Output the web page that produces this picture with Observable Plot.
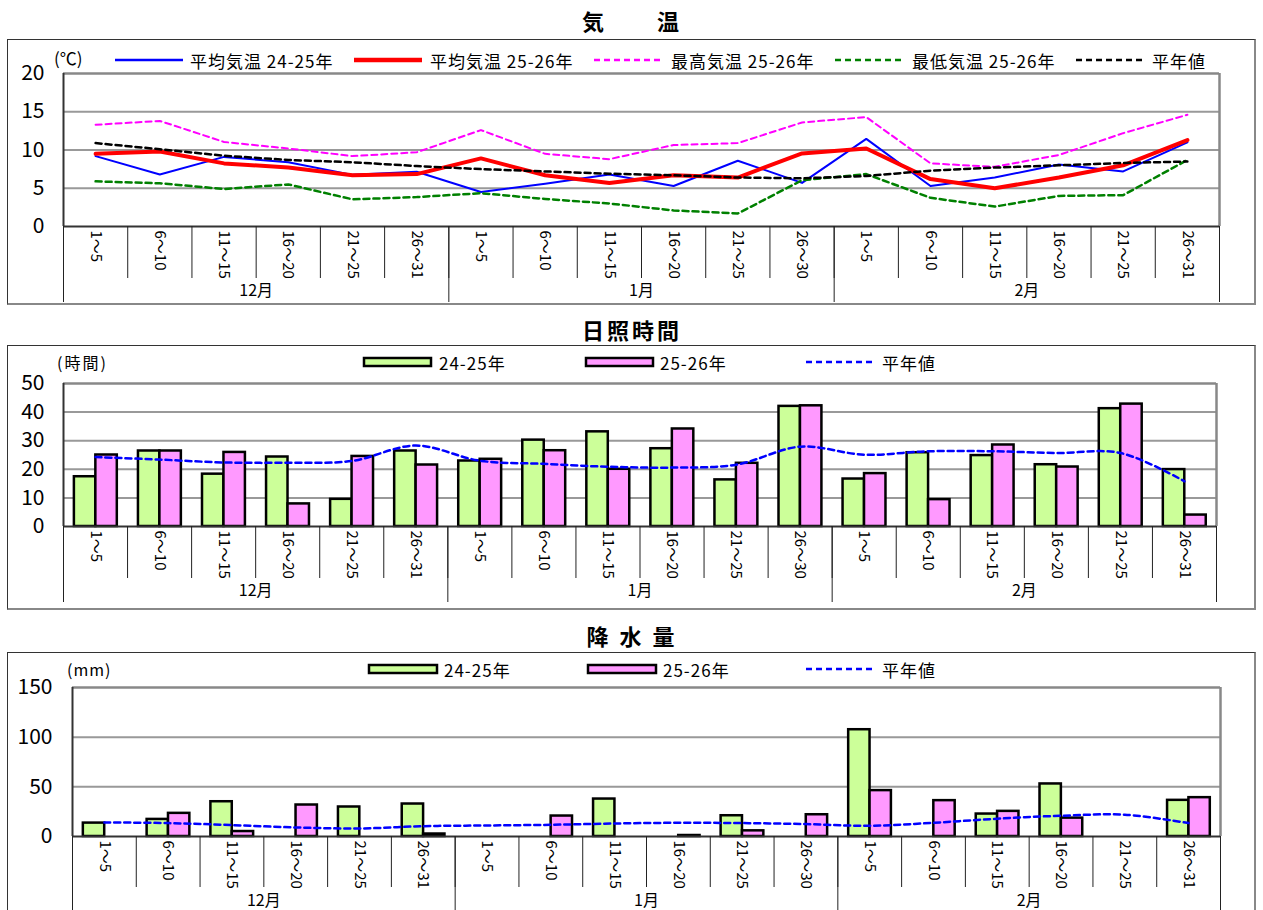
<!DOCTYPE html>
<html><head><meta charset="utf-8">
<script src="https://cdn.jsdelivr.net/npm/d3@7"></script>
<script src="https://cdn.jsdelivr.net/npm/@observablehq/plot@0.6"></script>
<style>
body{margin:0;background:#fff;font-family:"Noto Sans CJK JP",sans-serif;color:#000;}
#root{position:relative;width:1263px;height:910px;overflow:hidden;background:#fff;}
.abs{position:absolute;white-space:nowrap;line-height:1;}
.leg{letter-spacing:1px;}
.box{position:absolute;border-top:1px solid #333;border-left:1px solid #333;border-right:2px solid #888;border-bottom:2px solid #888;box-sizing:border-box;}
.title{font-weight:bold;font-size:22px;letter-spacing:3px;}
svg.plot{position:absolute;overflow:visible;}
</style></head><body><div id="root"></div>
<script>
// ---- data ----
const periods = ["1～5","6～10","11～15","16～20","21～25","26～31","1～5","6～10","11～15","16～20","21～25","26～30","1～5","6～10","11～15","16～20","21～25","26～31"];
const months = ["12月","1月","2月"];
const tempTicks = [0,5,10,15,20];
const sunTicks = [0,10,20,30,40,50];
const precTicks = [0,50,100,150];

const tempAvgPrev = [9.2,6.8,9.1,8.4,6.75,7.15,4.5,5.6,6.8,5.3,8.6,5.7,11.45,5.3,6.4,8.1,7.2,11.0];
const tempAvgCur  = [9.5,9.8,8.25,7.7,6.7,6.85,8.9,6.7,5.7,6.7,6.4,9.55,10.2,6.2,5.0,6.4,8.0,11.3];
const tempMaxCur  = [13.3,13.8,11.05,10.2,9.2,9.7,12.6,9.5,8.8,10.65,10.9,13.6,14.3,8.25,7.8,9.35,12.2,14.6];
const tempMinCur  = [5.9,5.65,4.9,5.5,3.55,3.85,4.35,3.6,3.0,2.1,1.7,6.05,6.85,3.75,2.6,4.0,4.1,8.7];
const tempNormal  = [10.9,10.1,9.25,8.7,8.4,7.9,7.5,7.2,6.9,6.7,6.4,6.3,6.6,7.3,7.7,8.0,8.3,8.5];

const sunPrev   = [17.4,26.4,18.3,24.3,9.5,26.4,22.9,30.2,33.1,27.2,16.3,42.0,16.6,25.8,24.8,21.6,41.2,19.9];
const sunCur    = [25.0,26.4,25.9,7.9,24.5,21.5,23.5,26.5,20.0,34.1,22.1,42.2,18.5,9.4,28.5,20.8,42.8,4.0];
const sunNormal = [24.3,23.4,22.4,22.3,22.9,28.3,23.0,21.9,20.9,20.6,21.6,27.9,25.1,26.3,26.3,25.7,25.7,15.8];

const precPrev   = [13.5,17.2,35.0,0,29.7,32.7,0,0,37.7,0,20.9,0,107.5,0,22.6,52.9,0,36.4];
const precCur    = [0,23.3,5.0,31.7,0,2.5,0,20.6,0,1.0,5.7,21.9,46.2,36.1,25.3,18.5,0,39.1];
const precNormal = [14.2,13.5,11.5,9.1,8.1,10.4,11.1,11.8,13.1,13.8,13.5,12.5,10.8,13.8,17.9,20.9,21.9,13.5];

// ---- helpers ----
const root = document.getElementById("root");
const NUMFONT = '"Liberation Sans Narrow","Noto Sans CJK JP",sans-serif';
function addText(x, y, txt, size, opts = {}) {
  const d = document.createElement("div");
  d.className = "abs" + (opts.cls ? " " + opts.cls : "");
  d.textContent = txt;
  d.style.left = x + "px"; d.style.top = y + "px";
  d.style.fontSize = size + "px";
  if (opts.font) d.style.fontFamily = opts.font;
  if (opts.ls != null) d.style.letterSpacing = opts.ls + "px";
  d.style.transform = opts.center ? "translate(-50%,-50%)" : "translate(0,-50%)";
  root.appendChild(d);
  return d;
}
function addBox(x1, y1, x2, y2) {
  const d = document.createElement("div");
  d.className = "box";
  Object.assign(d.style, {left: x1 + "px", top: y1 + "px", width: (x2 - x1) + "px", height: (y2 - y1) + "px"});
  root.appendChild(d);
}
function legendSvg(x1, x2, y, draw) {
  const s = d3.create("svg").attr("class", "plot")
    .attr("width", x2 - x1 + 10).attr("height", 20)
    .style("left", (x1 - 5) + "px").style("top", (y - 10) + "px");
  draw(s, x2 - x1);
  root.appendChild(s.node());
}
function legendLine(x1, x2, y, color, w, dash) {
  legendSvg(x1, x2, y, (s, L) => s.append("line").attr("x1", 5).attr("x2", 5 + L).attr("y1", 10).attr("y2", 10)
    .attr("stroke", color).attr("stroke-width", w).attr("stroke-dasharray", dash || null));
}
function legendRect(x1, x2, y, fill) {
  legendSvg(x1, x2, y, (s, L) => s.append("rect").attr("x", 5).attr("y", 6).attr("width", L).attr("height", 8)
    .attr("fill", fill).attr("stroke", "#000").attr("stroke-width", 2.5));
}

const idx = d3.range(18);

function chart({plotTop, plotBottom, bottomExtent, left, right, yMax, ticks, tickPad, sepLen, monthLen, monthPad, marks}) {
  const mt = 8;
  const svgTop = plotTop - mt;
  const height = bottomExtent - svgTop;
  const p = Plot.plot({
    width: 1263, height,
    marginTop: mt, marginBottom: bottomExtent - plotBottom,
    marginLeft: left, marginRight: 1263 - right,
    style: {fontFamily: NUMFONT, color: "#000", background: "transparent", overflow: "visible"},
    x: {type: "linear", domain: [0, 18], label: null},
    y: {domain: [0, yMax], label: null},
    marks: [
      Plot.ruleY(ticks.filter(t => t > 0 && t < yMax), {stroke: "#999", strokeWidth: 2}),
      Plot.ruleY([yMax], {stroke: "#888", strokeWidth: 2.5}),
      Plot.ruleX([18], {stroke: "#888", strokeWidth: 2.5}),
      ...marks,
      Plot.ruleX([0], {stroke: "#333", strokeWidth: 2}),
      Plot.ruleY([0], {stroke: "#333", strokeWidth: 2}),
      Plot.axisY(ticks, {tickSize: 0, tickPadding: tickPad, fontSize: 21, fontFamily: NUMFONT, label: null}),
      Plot.axisX(d3.range(19), {tickSize: sepLen, tickFormat: () => "", stroke: "#222", label: null}),
      Plot.axisX([0, 6, 12, 18], {tickSize: monthLen, tickFormat: () => "", stroke: "#222", label: null}),
      Plot.axisX(idx.map(i => i + 0.5), {tickSize: 0, tickPadding: 4, tickRotate: 90, fontSize: 15, fontFamily: NUMFONT,
        tickFormat: d => periods[Math.floor(d)], label: null}),
      Plot.axisX([3, 9, 15], {tickSize: 0, tickPadding: monthPad, fontSize: 16, fontFamily: NUMFONT,
        tickFormat: d => months[(d - 3) / 6], label: null})
    ]
  });
  p.classList.add("plot");
  p.style.left = "0px"; p.style.top = svgTop + "px";
  root.appendChild(p);
}

// ---- boxes ----
addBox(7, 39, 1256, 305);
addBox(7, 345, 1256, 610);
addBox(7, 652, 1256, 930);

// ---- titles ----
addText(632, 20, "気　　温", 22, {cls: "title", center: true});
addText(632, 329, "日照時間", 22, {cls: "title", center: true});
addText(632, 635, "降 水 量", 22, {cls: "title", center: true});

// ---- temperature ----
const tRows = idx.map(i => ({i, a: tempAvgPrev[i], b: tempAvgCur[i], mx: tempMaxCur[i], mn: tempMinCur[i], n: tempNormal[i]}));
const cx = d => d.i + 0.5;
chart({plotTop: 73, plotBottom: 226, bottomExtent: 304, left: 63, right: 1219, yMax: 20, ticks: tempTicks, tickPad: 19,
  sepLen: 52, monthLen: 76, monthPad: 58,
  marks: [
    Plot.line(tRows, {x: cx, y: "a", stroke: "#0000ff", strokeWidth: 2}),
    Plot.line(tRows, {x: cx, y: "b", stroke: "#ff0000", strokeWidth: 4}),
    Plot.line(tRows, {x: cx, y: "mx", stroke: "#ff00ff", strokeWidth: 2, strokeDasharray: "6,4"}),
    Plot.line(tRows, {x: cx, y: "mn", stroke: "#008000", strokeWidth: 2.5, strokeDasharray: "6,4"}),
    Plot.line(tRows, {x: cx, y: "n", stroke: "#000", strokeWidth: 2.5, strokeDasharray: "6,4"})
  ]});
addText(54, 57, "(℃)", 17);
legendLine(115, 183, 60, "#0000ff", 2.5);
addText(190, 60, "平均気温 24-25年", 17, {cls: "leg"});
legendLine(354, 422, 60, "#ff0000", 4.5);
addText(430, 60, "平均気温 25-26年", 17, {cls: "leg"});
legendLine(594, 663, 60, "#ff00ff", 2.5, "6,4");
addText(671, 60, "最高気温 25-26年", 17, {cls: "leg"});
legendLine(835, 903, 60, "#008000", 2.5, "6,4");
addText(912, 60, "最低気温 25-26年", 17, {cls: "leg"});
legendLine(1076, 1143, 60, "#000", 2.5, "6,4");
addText(1152, 60, "平年値", 17, {cls: "leg"});

// ---- sunshine ----
const sRows = idx.map(i => ({i, p: sunPrev[i], c: sunCur[i], n: sunNormal[i]}));
chart({plotTop: 383, plotBottom: 526, bottomExtent: 608, left: 63, right: 1216, yMax: 50, ticks: sunTicks, tickPad: 19,
  sepLen: 52, monthLen: 76, monthPad: 58,
  marks: [
    Plot.rectY(sRows.filter(d => d.p > 0), {x1: d => d.i + 0.17, x2: d => d.i + 0.505, y: "p", fill: "#ccff99", stroke: "#000", strokeWidth: 2.5}),
    Plot.rectY(sRows.filter(d => d.c > 0), {x1: d => d.i + 0.505, x2: d => d.i + 0.84, y: "c", fill: "#ff99ff", stroke: "#000", strokeWidth: 2.5}),
    Plot.line(sRows, {x: cx, y: "n", curve: "catmull-rom", stroke: "#0000ff", strokeWidth: 2.5, strokeDasharray: "6,4"})
  ]});
addText(57, 362, "(時間)", 16, {ls: 2});
legendRect(364, 431, 362, "#ccff99");
addText(439, 362, "24-25年", 17, {cls: "leg"});
legendRect(586, 653, 362, "#ff99ff");
addText(660, 362, "25-26年", 17, {cls: "leg"});
legendLine(806, 874, 362, "#0000ff", 2.5, "6,4");
addText(882, 362, "平年値", 17, {cls: "leg"});

// ---- precipitation ----
const pRows = idx.map(i => ({i, p: precPrev[i], c: precCur[i], n: precNormal[i]}));
chart({plotTop: 687, plotBottom: 836, bottomExtent: 912, left: 72, right: 1220, yMax: 150, ticks: precTicks, tickPad: 20,
  sepLen: 51, monthLen: 80, monthPad: 58,
  marks: [
    Plot.rectY(pRows.filter(d => d.p > 0), {x1: d => d.i + 0.17, x2: d => d.i + 0.505, y: "p", fill: "#ccff99", stroke: "#000", strokeWidth: 2.5}),
    Plot.rectY(pRows.filter(d => d.c > 0), {x1: d => d.i + 0.505, x2: d => d.i + 0.84, y: "c", fill: "#ff99ff", stroke: "#000", strokeWidth: 2.5}),
    Plot.line(pRows, {x: cx, y: "n", curve: "catmull-rom", stroke: "#0000ff", strokeWidth: 2.5, strokeDasharray: "6,4"})
  ]});
addText(67, 669, "(mm)", 16, {ls: 1});
legendRect(369, 437, 669, "#ccff99");
addText(444, 669, "24-25年", 17, {cls: "leg"});
legendRect(588, 656, 669, "#ff99ff");
addText(663, 669, "25-26年", 17, {cls: "leg"});
legendLine(806, 874, 669, "#0000ff", 2.5, "6,4");
addText(882, 669, "平年値", 17, {cls: "leg"});
</script></body></html>
